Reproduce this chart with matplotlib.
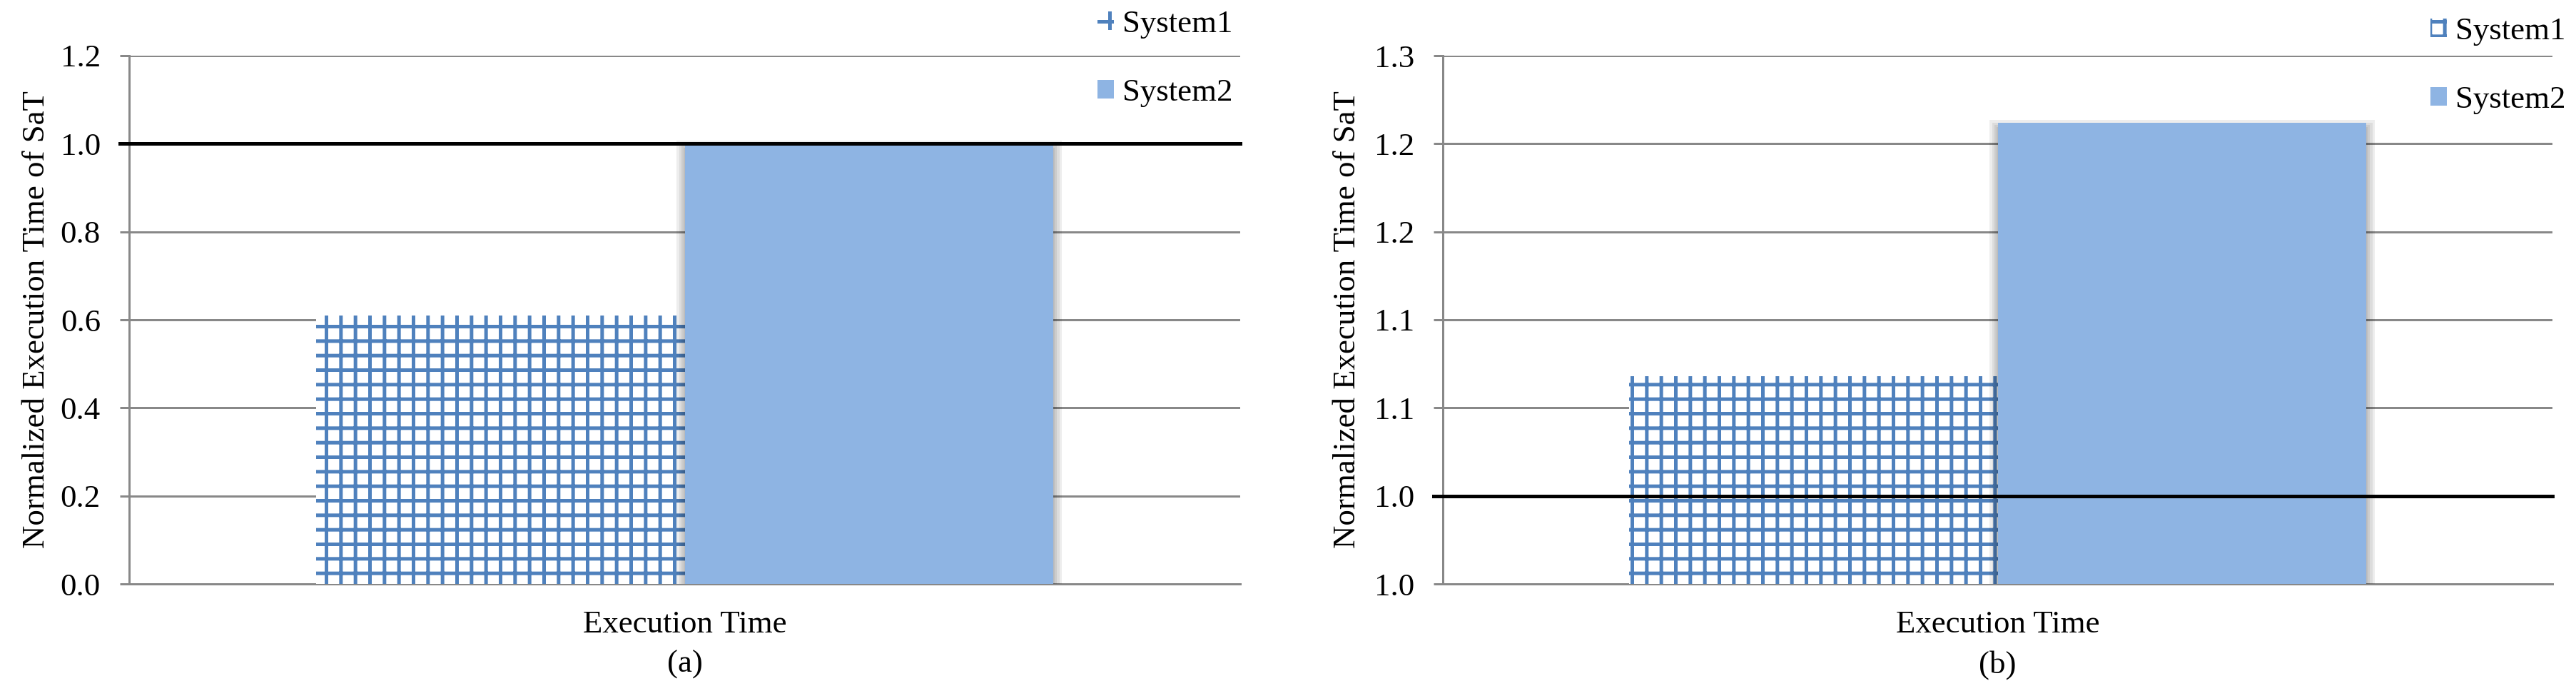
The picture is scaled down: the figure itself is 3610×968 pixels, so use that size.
import matplotlib
matplotlib.use("Agg")
import matplotlib.pyplot as plt
import matplotlib.patches as mpatches
import matplotlib.patheffects as pe

# data
categories = ["Execution Time"]
series_names = ["System1", "System2"]
a_system1 = [0.61]
a_system2 = [1.0]
b_system1 = [1.068]
b_system2 = [1.212]
baseline = 1.0
a_yticks = [0.0, 0.2, 0.4, 0.6, 0.8, 1.0, 1.2]
a_yticklabels = ["0.0", "0.2", "0.4", "0.6", "0.8", "1.0", "1.2"]
b_yticks = [0.95, 1.00, 1.05, 1.10, 1.15, 1.20, 1.25]
b_yticklabels = ["1.0", "1.0", "1.1", "1.1", "1.2", "1.2", "1.3"]

W, H, DPI = 3610, 968, 122
BLUE = "#4F81BD"
LIGHT = "#8EB4E3"
GRAY = "#888888"


def pt(px):
    return px * 72 / DPI


plt.rcParams["font.family"] = ["Liberation Serif", "DejaVu Serif"]
plt.rcParams["font.size"] = 26.5
plt.rcParams["hatch.linewidth"] = pt(5)
plt.rcParams["hatch.color"] = BLUE

fig = plt.figure(figsize=(W / DPI, H / DPI), dpi=DPI)


def draw_panel(rect, s1, s2, yticks, yticklabels, letter, legend_xy, ylabel_x):
    ax = fig.add_axes(rect)
    x = list(range(len(categories)))
    w = 0.332
    shadow = [pe.Stroke(linewidth=pt(lw), foreground="black", alpha=0.07,
                        offset=(0, -pt(8))) for lw in (24, 17, 10, 4)]
    ax.bar([i - w / 2 for i in x], s1, w, facecolor="white", edgecolor=BLUE,
           linewidth=0, hatch="+", zorder=3, label=series_names[0])
    bars2 = ax.bar([i + w / 2 for i in x], s2, w, facecolor=LIGHT,
                   linewidth=0, zorder=3, label=series_names[1])
    for b in bars2:
        b.set_path_effects(shadow + [pe.Normal()])
    ax.axhline(baseline, xmin=-13 / 1557, xmax=1, color="black",
               linewidth=pt(5), zorder=5, clip_on=False)

    ax.set_xlim(-0.5, 0.5)
    ax.set_ylim(yticks[0], yticks[-1])
    ax.set_yticks(yticks, yticklabels)
    ax.set_xticks(x, categories)
    ax.tick_params(axis="x", length=0, pad=pt(37))
    ax.tick_params(axis="y", length=pt(13), width=pt(3), color=GRAY, pad=pt(27))
    ax.yaxis.grid(True, color=GRAY, linewidth=pt(3))
    ax.set_axisbelow(True)
    for side in ("top", "right"):
        ax.spines[side].set_visible(False)
    for side in ("left", "bottom"):
        ax.spines[side].set_color(GRAY)
        ax.spines[side].set_linewidth(pt(3))

    ax.set_ylabel("Normalized Execution Time of SaT")
    ax.yaxis.set_label_coords(ylabel_x, 0.5)
    ax.set_xlabel(letter, labelpad=pt(16))

    handles = [
        mpatches.Patch(facecolor="white", edgecolor=BLUE, linewidth=0, hatch="+"),
        mpatches.Patch(facecolor=LIGHT, linewidth=0),
    ]
    fig.legend(handles, series_names, loc="upper left",
               bbox_to_anchor=(legend_xy[0] / W, 1 - legend_xy[1] / H),
               bbox_transform=fig.transFigure, frameon=False, borderpad=0,
               borderaxespad=0, handlelength=0.52, handleheight=0.52,
               handletextpad=0.25, labelspacing=1.25)
    return ax


top, bottom = 78, 818
draw_panel([181 / W, 1 - bottom / H, (1738 - 181) / W, (bottom - top) / H],
           a_system1, a_system2, a_yticks, a_yticklabels, "(a)",
           (1538, 14), -0.0707)
draw_panel([2022 / W, 1 - bottom / H, (3577 - 2022) / W, (bottom - top) / H],
           b_system1, b_system2, b_yticks, b_yticklabels, "(b)",
           (3406, 24), -0.0733)

fig.savefig("out.png", dpi=DPI)
